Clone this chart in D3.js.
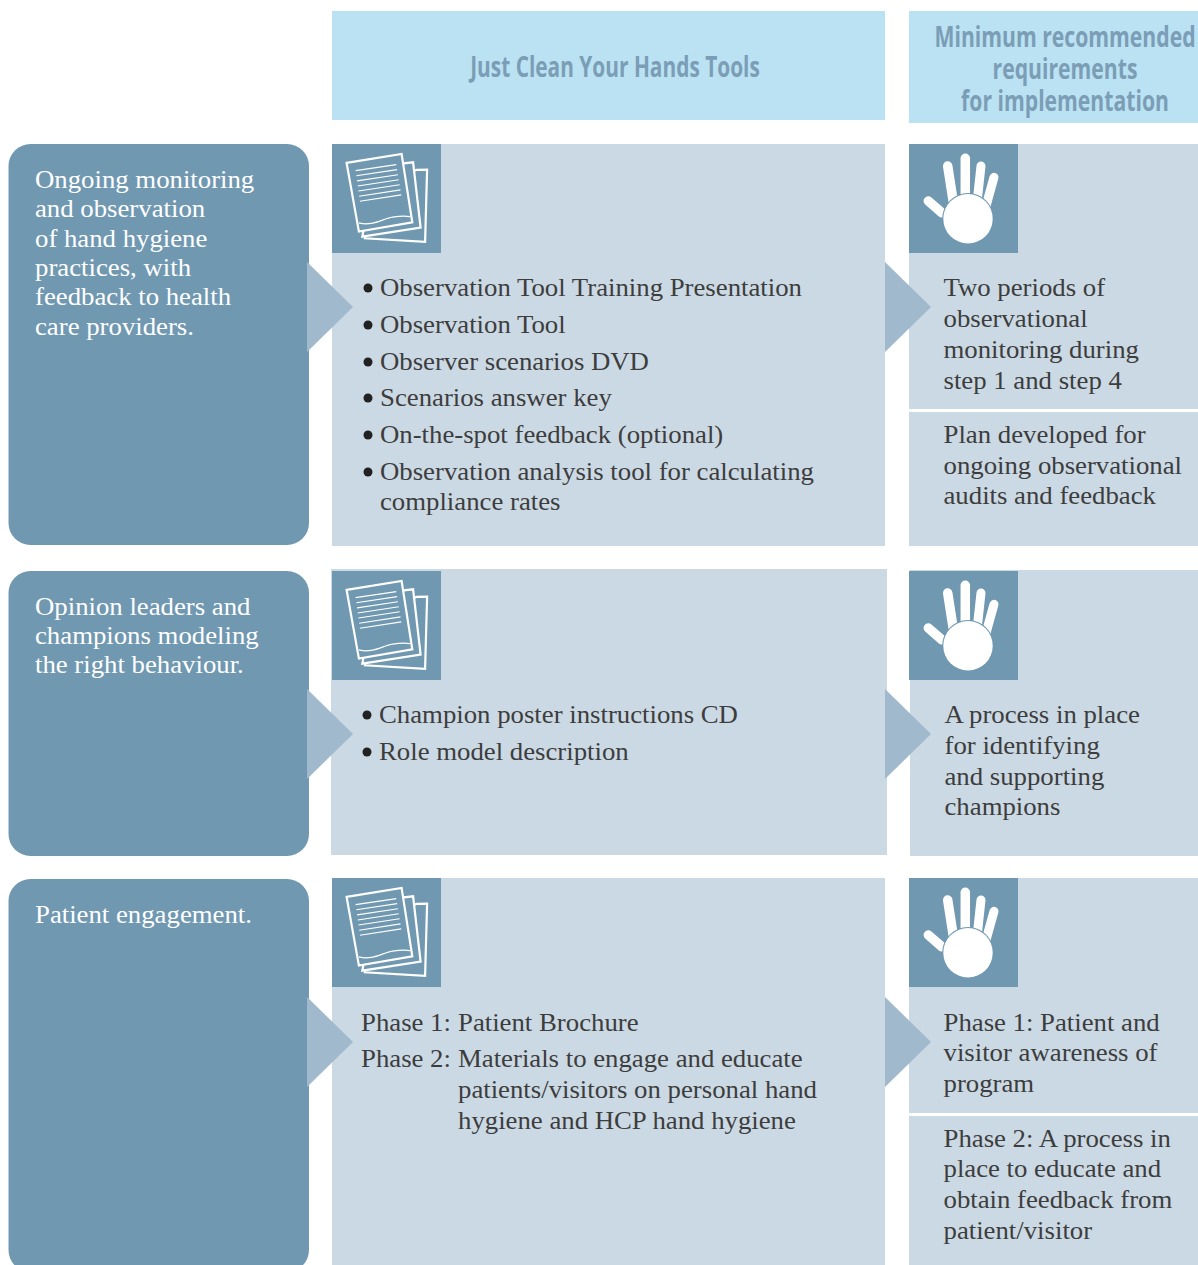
<!DOCTYPE html>
<html><head><meta charset="utf-8">
<script src="https://cdn.jsdelivr.net/npm/d3@7"></script>
<style>html,body{margin:0;padding:0;background:#fff;overflow:hidden}svg{display:block}</style>
</head><body><svg id="c" width="1198" height="1265"></svg>
<script>
const headers = [["Just Clean Your Hands Tools"], ["Minimum recommended","requirements","for implementation"]];
const strategyText = [
 ["Ongoing monitoring","and observation","of hand hygiene","practices, with","feedback to health","care providers."],
 ["Opinion leaders and","champions modeling","the right behaviour."],
 ["Patient engagement."]
];
const toolBullets1 = ["Observation Tool Training Presentation","Observation Tool","Observer scenarios DVD","Scenarios answer key","On-the-spot feedback (optional)","Observation analysis tool for calculating"];
const toolCont1 = "compliance rates";
const toolBullets2 = ["Champion poster instructions CD","Role model description"];
const phaseLabels = ["Phase 1:","Phase 2:"];
const phaseText = ["Patient Brochure","Materials to engage and educate","patients/visitors on personal hand","hygiene and HCP hand hygiene"];
const reqText = [
 ["Two periods of","observational","monitoring during","step 1 and step 4"],
 ["Plan developed for","ongoing observational","audits and feedback"],
 ["A process in place","for identifying","and supporting","champions"],
 ["Phase 1: Patient and","visitor awareness of","program"],
 ["Phase 2: A process in","place to educate and","obtain feedback from","patient/visitor"]
];

const C = {side:"#7098b1", panel:"#cbd9e4", tri:"#a0b9cd", head:"#bae2f2", headText:"#7b9db6", text:"#3d3d3d"};
const svg = d3.select("#c");
const SERIF = "'Liberation Serif'", SX = 1.05;

function rect(x0,y0,x1,y1,fill,r){ return svg.append("rect").attr("x",x0).attr("y",y0).attr("width",x1-x0).attr("height",y1-y0).attr("fill",fill).attr("rx",r||0); }
function text(str,x,y,opt){
  opt=opt||{};
  const t = svg.append("text").attr("x",0).attr("y",0)
    .attr("transform",`translate(${x},${y}) scale(${opt.sx||SX},1)`)
    .attr("font-family",opt.font||SERIF).attr("font-size",opt.size||25.5)
    .attr("font-weight",opt.weight||"normal").attr("fill",opt.fill||C.text)
    .attr("text-anchor",opt.anchor||"start").text(str);
  return t;
}
function lines(arr,x,ys,opt){ arr.forEach((s,i)=>text(s,x,ys[i],opt)); }
function tri(x,yc){ svg.append("path").attr("d",d3.line()([[x,yc-45],[x+46,yc],[x,yc+45]])+"Z").attr("fill",C.tri); }

function papers(x,y){
  const g = svg.append("g").attr("transform",`translate(${x},${y})`);
  g.append("rect").attr("width",109).attr("height",109).attr("fill",C.side);
  const h = svg.append("g").attr("transform",`translate(${x+0.6},${y+0.6})`);
  const sheet = [
    [[84,25.3],[94.5,25],[92.5,97.2],[32.3,93.7],[40,40]],
    [[60,20],[80.5,17.7],[88,83],[29.7,92],[40,40]],
    [[14,18.3],[69,9.3],[79.7,77.7],[26.3,87]]
  ];
  sheet.forEach(p=>h.append("path").attr("d",d3.line()(p)+"Z").attr("fill",C.side).attr("stroke","#fff").attr("stroke-width",2.2).attr("stroke-linejoin","miter"));
  for(let i=0;i<7;i++){
    const k=i/6;
    h.append("line").attr("x1",23+4.3*k).attr("y1",26+30.7*k).attr("x2",63.7+5*k).attr("y2",20+30.3*k).attr("stroke","#fff").attr("stroke-width",1.1);
  }
  h.append("path").attr("d","M26.3,78.3C40,82,50,74,60,72.5S72,71,77.3,72").attr("fill","none").attr("stroke","#fff").attr("stroke-width",1.2);
}
function hand(x,y){
  const g = svg.append("g").attr("transform",`translate(${x},${y})`);
  g.append("rect").attr("width",109).attr("height",109).attr("fill",C.side);
  [[19.3,57,32.7,68.7,9.5],[38.7,22,44.3,58,9.5],[56.3,14.3,56.3,55,9.5],[72,22,68.3,56,9],[85,33.3,77,62,9]].forEach(f=>
    g.append("line").attr("x1",f[0]).attr("y1",f[1]).attr("x2",f[2]).attr("y2",f[3]).attr("stroke","#fff").attr("stroke-width",f[4]).attr("stroke-linecap","round"));
  g.append("circle").attr("cx",59).attr("cy",74.7).attr("r",24.7).attr("fill","#fff").attr("stroke",C.side).attr("stroke-width",2).attr("paint-order","stroke");
}

// headers
rect(332,11,885,120,C.head); rect(909,11,1198,123,C.head);
const HF={font:"'Open Sans'",size:29,weight:"bold",fill:C.headText,anchor:"middle",sx:0.72};
text(headers[0][0],615,77,HF);
lines(headers[1],1065,[47,79,111],{...HF,sx:0.73});

// left boxes
rect(8.5,144,309,545,C.side,22); rect(8.5,571,309,856,C.side,22); rect(8.5,879,309,1272,C.side,22);
// panels
rect(332,144,885,546,C.panel); rect(331,569,887,855,C.panel); rect(332,878,885,1265,C.panel);
rect(909,144,1198,546,C.panel); rect(910,570,1198,856,C.panel); rect(909,878,1198,1265,C.panel);
rect(909,409,1198,412,"#fff"); rect(909,1113,1198,1116,"#fff");
// triangles
[307,734,1042].forEach((yc,i)=>{ tri(307,yc); tri(885,yc); });
// icons
[144,571,878].forEach(y=>{ papers(332,y); hand(909,y); });

// left text
const W={fill:"#fff"};
lines(strategyText[0],35,[188,217,247,276,305,335],W);
lines(strategyText[1],35,[615,644,673],W);
lines(strategyText[2],35,[923],W);

// tools
const by1=[296,333,370,406,443,480];
toolBullets1.forEach((s,i)=>{ svg.append("circle").attr("cx",368).attr("cy",by1[i]-8).attr("r",4.5).attr("fill","#222"); text(s,380,by1[i]); });
text(toolCont1,380,510);
const by2=[723,760];
toolBullets2.forEach((s,i)=>{ svg.append("circle").attr("cx",367).attr("cy",by2[i]-8).attr("r",4.5).attr("fill","#222"); text(s,379,by2[i]); });
text(phaseLabels[0],361,1031); text(phaseLabels[1],361,1067);
lines(phaseText,458,[1031,1067,1098,1129]);

// requirements
lines(reqText[0],943.5,[296,327,358,389]);
lines(reqText[1],943.5,[443,474,504]);
lines(reqText[2],944.5,[723,754,785,815]);
lines(reqText[3],943.5,[1031,1061,1092]);
lines(reqText[4],943.5,[1147,1177,1208,1239]);
</script></body></html>
